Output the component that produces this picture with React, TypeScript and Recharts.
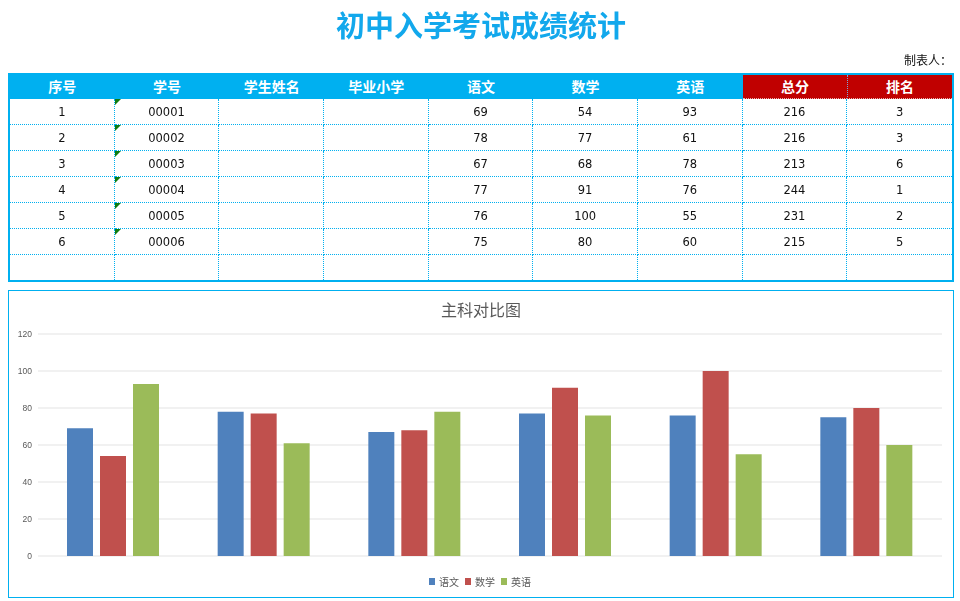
import { BarChart, Bar, XAxis, YAxis, CartesianGrid } from 'recharts';

const HEADERS = ['序号', '学号', '学生姓名', '毕业小学', '语文', '数学', '英语', '总分', '排名'];
const ROW_NO = [1, 2, 3, 4, 5, 6];
const STUDENT_NO = ['00001', '00002', '00003', '00004', '00005', '00006'];
const CHINESE = [69, 78, 67, 77, 76, 75];
const MATH = [54, 77, 68, 91, 100, 80];
const ENGLISH = [93, 61, 78, 76, 55, 60];
const TOTAL = [216, 216, 213, 244, 231, 215];
const RANK = [3, 3, 6, 1, 2, 5];
const Y_TICKS = [0, 20, 40, 60, 80, 100, 120];

const SERIES = [
  { key: 'chinese', name: '语文', color: '#4F81BD' },
  { key: 'math', name: '数学', color: '#C0504D' },
  { key: 'english', name: '英语', color: '#9BBB59' },
];

const BLUE = '#00B0F0';
const RED = '#C00000';
const CJK = '"Noto Sans CJK SC", "Noto Sans", sans-serif';
const NUM = '"DejaVu Sans", Verdana, sans-serif';

const chartData = ROW_NO.map((n, i) => ({
  name: String(n),
  chinese: CHINESE[i],
  math: MATH[i],
  english: ENGLISH[i],
}));

const COL_W = 942 / 9;

function Cell({ col, last, children, triangle }: { col: number; last: boolean; children?: any; triangle?: boolean }) {
  return (
    <div
      style={{
        position: 'relative',
        width: COL_W,
        height: '100%',
        boxSizing: 'border-box',
        borderRight: col < 8 ? `1px dotted ${BLUE}` : 'none',
        borderBottom: last ? 'none' : `1px dotted ${BLUE}`,
        display: 'flex',
        alignItems: 'center',
        justifyContent: 'center',
        fontFamily: NUM,
        fontSize: 11.5,
        color: '#111',
      }}
    >
      {triangle && (
        <span
          style={{
            position: 'absolute',
            left: 0,
            top: 0,
            width: 0,
            height: 0,
            borderTop: '6px solid #107C10',
            borderRight: '6px solid transparent',
          }}
        />
      )}
      {children}
    </div>
  );
}

export default function App() {
  const rows = ROW_NO.map((n, i) => [
    n, STUDENT_NO[i], '', '', CHINESE[i], MATH[i], ENGLISH[i], TOTAL[i], RANK[i],
  ]);
  rows.push(['', '', '', '', '', '', '', '', '']);

  return (
    <div style={{ position: 'fixed', left: 8, top: 8, width: 946, height: 592, fontFamily: CJK }}>
      <div
        style={{
          position: 'absolute',
          left: 0,
          top: -2,
          width: 946,
          textAlign: 'center',
          fontSize: 29,
          fontWeight: 700,
          color: '#12A8EC',
          lineHeight: '36px',
        }}
      >
        初中入学考试成绩统计
      </div>
      <div style={{ position: 'absolute', right: 2, top: 44, fontSize: 12, color: '#111', lineHeight: '16px' }}>
        制表人：
      </div>

      <div
        style={{
          position: 'absolute',
          left: 0,
          top: 65,
          width: 946,
          height: 209,
          border: `2px solid ${BLUE}`,
          boxSizing: 'border-box',
        }}
      >
        <div style={{ display: 'flex', height: 24 }}>
          {HEADERS.map((h, c) => (
            <div
              key={h}
              style={{
                width: COL_W,
                height: '100%',
                boxSizing: 'border-box',
                background: c >= 7 ? RED : BLUE,
                borderLeft: c === 8 ? '1px dotted #7FA7D8' : 'none',
                borderBottom: c >= 7 ? '1px dotted #E8B0B0' : 'none',
                color: '#fff',
                fontWeight: 700,
                fontSize: 14,
                display: 'flex',
                alignItems: 'center',
                justifyContent: 'center',
                paddingBottom: 2,
              }}
            >
              {h}
            </div>
          ))}
        </div>
        {rows.map((r, ri) => (
          <div key={ri} style={{ display: 'flex', height: ri === 6 ? 25 : 26 }}>
            {r.map((v, c) => (
              <Cell key={c} col={c} last={ri === 6} triangle={c === 1 && ri < 6}>
                {v}
              </Cell>
            ))}
          </div>
        ))}
      </div>

      <div
        style={{
          position: 'absolute',
          left: 0,
          top: 282,
          width: 946,
          height: 308,
          border: `1px solid ${BLUE}`,
          boxSizing: 'border-box',
          background: '#fff',
        }}
      >
        <div
          style={{
            position: 'absolute',
            left: 0,
            top: 7,
            width: 944,
            textAlign: 'center',
            fontSize: 16,
            color: '#595959',
            lineHeight: '22px',
          }}
        >
          主科对比图
        </div>
        <div style={{ position: 'absolute', left: 0, top: 0 }}>
          <BarChart
            width={944}
            height={306}
            data={chartData}
            margin={{ top: 43, right: 11, bottom: 41, left: 0 }}
            barCategoryGap={29}
            barGap={7}
          >
            <CartesianGrid vertical={false} stroke="#E3E3E3" />
            <XAxis dataKey="name" hide />
            <YAxis
              width={29}
              domain={[0, 120]}
              ticks={Y_TICKS}
              axisLine={false}
              tickLine={false}
              tickSize={4}
              tickMargin={2}
              tick={{ fontSize: 8.5, fill: '#595959', fontFamily: '"Liberation Sans", Arial, sans-serif' }}
            />
            {SERIES.map((s) => (
              <Bar key={s.key} dataKey={s.key} name={s.name} fill={s.color} isAnimationActive={false} />
            ))}
          </BarChart>
        </div>
        <div
          style={{
            position: 'absolute',
            left: 0,
            top: 283,
            width: 944,
            display: 'flex',
            justifyContent: 'center',
            gap: 6,
            paddingRight: 2,
            boxSizing: 'border-box',
          }}
        >
          {SERIES.map((s) => (
            <div key={s.key} style={{ display: 'flex', alignItems: 'center', gap: 4, fontSize: 10, color: '#595959' }}>
              <span style={{ width: 6, height: 7, background: s.color, display: 'inline-block' }} />
              {s.name}
            </div>
          ))}
        </div>
      </div>
    </div>
  );
}
